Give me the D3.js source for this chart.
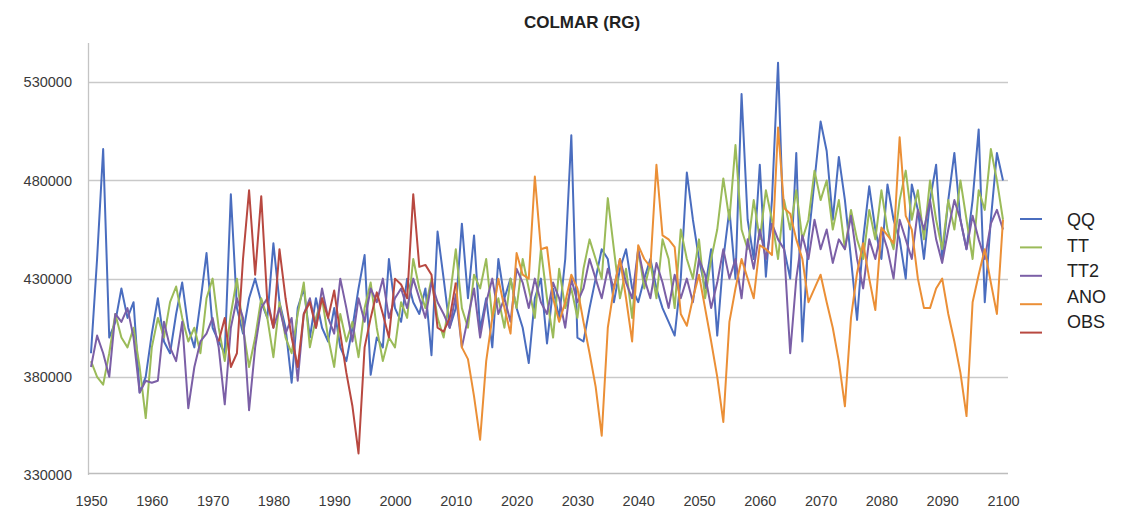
<!DOCTYPE html>
<html>
<head>
<meta charset="utf-8">
<script src="https://cdn.jsdelivr.net/npm/d3@7/dist/d3.min.js"></script>
<style>
  html, body { margin: 0; padding: 0; background: #fff; }
  svg { display: block; }
</style>
</head>
<body>
<svg id="chart" width="1121" height="513"></svg>
<script>
// ---------- DATA ----------
const years = d3.range(1950, 2101);
const xTickYears = [1950, 1960, 1970, 1980, 1990, 2000, 2010, 2020, 2030, 2040, 2050, 2060, 2070, 2080, 2090, 2100];
const yTickValues = [330000, 380000, 430000, 480000, 530000];
const seriesNames = ["QQ", "TT", "TT2", "ANO", "OBS"];
const seriesColors = ["#4a6dbf", "#9bbb59", "#7b5fa6", "#eb8f36", "#b84840"];

const qq = [
  392000, 440000, 496000, 400000, 408000, 425000, 410000, 418000, 372000, 380000,
  402000, 420000, 398000, 392000, 412000, 428000, 405000, 395000, 418000, 443000,
  405000, 398000, 392000, 473000, 415000, 402000, 420000, 430000, 418000, 410000,
  448000, 418000, 405000, 377000, 415000, 425000, 400000, 420000, 405000, 398000,
  415000, 395000, 388000, 405000, 425000, 442000, 381000, 400000, 395000, 440000,
  415000, 408000, 430000, 418000, 412000, 425000, 391000, 454000, 430000, 405000,
  415000, 458000, 420000, 452000, 404000, 420000, 395000, 440000, 420000, 430000,
  415000, 405000, 387000, 420000, 430000, 397000, 425000, 410000, 440000, 503000,
  400000, 398000, 415000, 430000, 445000, 440000, 418000, 435000, 445000, 425000,
  418000, 430000, 440000, 425000, 415000, 408000, 401000, 430000, 484000, 460000,
  440000, 425000, 445000, 401000, 440000, 465000, 430000, 524000, 460000, 440000,
  488000, 431000, 470000, 540000, 445000, 430000, 494000, 398000, 450000, 480000,
  510000, 495000, 460000, 492000, 470000, 440000, 409000, 450000, 477000, 455000,
  440000, 478000, 460000, 450000, 430000, 478000, 465000, 440000, 470000, 488000,
  440000, 470000, 494000, 460000, 445000, 470000, 506000, 418000, 460000, 494000,
  480000
];
const tt = [
  388000, 380000, 376000, 392000, 412000, 400000, 395000, 405000, 385000, 359000,
  395000, 410000, 400000, 418000, 426000, 410000, 398000, 405000, 392000, 420000,
  430000, 405000, 388000, 412000, 430000, 405000, 385000, 400000, 420000, 410000,
  390000, 418000, 400000, 392000, 412000, 428000, 395000, 410000, 420000, 400000,
  385000, 412000, 398000, 408000, 390000, 415000, 428000, 405000, 388000, 400000,
  395000, 418000, 410000, 440000, 425000, 415000, 430000, 410000, 400000, 420000,
  445000, 415000, 405000, 432000, 425000, 440000, 410000, 420000, 405000, 430000,
  415000, 440000, 425000, 410000, 445000, 420000, 400000, 435000, 415000, 425000,
  410000, 435000, 450000, 440000, 430000, 471000, 445000, 420000, 435000, 410000,
  445000, 425000, 438000, 420000, 450000, 440000, 415000, 455000, 440000, 430000,
  450000, 420000, 440000, 455000, 481000, 460000, 498000, 455000, 445000, 470000,
  450000, 475000, 460000, 440000, 470000, 455000, 475000, 450000, 460000, 485000,
  470000, 480000, 455000, 470000, 445000, 465000, 450000, 440000, 465000, 450000,
  475000, 455000, 445000, 470000, 485000, 460000, 475000, 450000, 480000, 460000,
  445000, 470000, 455000, 480000, 460000, 440000, 475000, 465000, 496000, 480000,
  460000
];
const tt2 = [
  385000, 401000, 392000, 380000, 412000, 408000, 415000, 400000, 372000, 378000,
  377000, 378000, 408000, 395000, 388000, 408000, 364000, 385000, 398000, 402000,
  410000, 395000, 366000, 405000, 420000, 410000, 363000, 395000, 415000, 420000,
  405000, 415000, 402000, 410000, 378000, 412000, 420000, 405000, 425000, 410000,
  402000, 430000, 415000, 398000, 420000, 408000, 425000, 418000, 430000, 410000,
  420000, 425000, 415000, 430000, 420000, 410000, 428000, 418000, 412000, 405000,
  422000, 395000, 410000, 425000, 400000, 418000, 430000, 412000, 420000, 408000,
  435000, 428000, 415000, 430000, 418000, 412000, 428000, 420000, 405000, 430000,
  418000, 425000, 440000, 430000, 420000, 435000, 425000, 440000, 428000, 420000,
  445000, 430000, 420000, 438000, 428000, 415000, 432000, 420000, 430000, 418000,
  440000, 432000, 415000, 428000, 445000, 430000, 440000, 420000, 450000, 435000,
  455000, 440000, 458000, 450000, 445000, 392000, 430000, 452000, 440000, 460000,
  445000, 455000, 438000, 450000, 445000, 462000, 440000, 425000, 450000, 440000,
  455000, 445000, 430000, 460000, 450000, 440000, 465000, 455000, 470000, 450000,
  438000, 455000, 470000, 460000, 445000, 462000, 450000, 440000, 458000, 465000,
  455000
];
// ANO: 2010 - 2100
const anoStart = 2010;
const ano = [
  428000,
  395000, 389000, 370000, 348000, 388000, 410000, 430000, 415000, 402000, 443000,
  432000, 430000, 482000, 445000, 446000, 420000, 408000, 418000, 432000, 425000,
  408000, 392000, 375000, 350000, 405000, 425000, 440000, 420000, 398000, 447000,
  440000, 436000, 488000, 452000, 450000, 446000, 412000, 406000, 420000, 432000,
  415000, 398000, 380000, 357000, 408000, 425000, 440000, 430000, 420000, 447000,
  445000, 442000, 507000, 466000, 463000, 450000, 440000, 418000, 425000, 432000,
  418000, 405000, 388000, 365000, 410000, 433000, 448000, 430000, 414000, 456000,
  452000, 448000, 502000, 462000, 455000, 430000, 415000, 415000, 425000, 430000,
  412000, 398000, 382000, 360000, 418000, 432000, 445000, 428000, 412000, 460000
];
// OBS: 1971 - 2010
const obsStart = 1971;
const obs = [
  398000, 410000, 385000, 392000, 440000, 475000, 432000, 472000, 418000, 405000,
  445000, 420000, 400000, 385000, 412000, 418000, 405000, 420000, 410000, 424000,
  402000, 382000, 365000, 341000, 395000, 410000, 423000, 412000, 400000, 430000,
  427000, 420000, 473000, 436000, 437000, 432000, 405000, 403000, 410000, 428000
];

// ---------- BUILD ----------
const seriesData = [
  years.map((y, i) => ({ year: y, value: qq[i] })),
  years.map((y, i) => ({ year: y, value: tt[i] })),
  years.map((y, i) => ({ year: y, value: tt2[i] })),
  ano.map((v, i) => ({ year: anoStart + i, value: v })),
  obs.map((v, i) => ({ year: obsStart + i, value: v }))
];

const svg = d3.select("#chart");
const plotLeft = 88, plotRight = 1008, plotTop = 43, plotBottom = 475;
const font = "'Liberation Sans', Arial, sans-serif";

const x = d3.scaleLinear().domain([1950, 2100]).range([91, 1003]);
const y = d3.scaleLinear().domain([330000, 550000]).range([plotBottom, plotTop]);

// gridlines
svg.append("g")
  .selectAll("line")
  .data(yTickValues.slice(1))
  .join("line")
  .attr("x1", plotLeft).attr("x2", plotRight)
  .attr("y1", d => Math.round(y(d)) + 0.5).attr("y2", d => Math.round(y(d)) + 0.5)
  .attr("stroke", "#c9c9c9").attr("stroke-width", 1.3);

// axes lines
svg.append("line")
  .attr("x1", plotLeft + 0.5).attr("x2", plotLeft + 0.5)
  .attr("y1", plotTop).attr("y2", plotBottom)
  .attr("stroke", "#c4c4c4").attr("stroke-width", 1.3);
svg.append("line")
  .attr("x1", plotLeft).attr("x2", plotRight)
  .attr("y1", plotBottom - 1.5).attr("y2", plotBottom - 1.5)
  .attr("stroke", "#bdbdbd").attr("stroke-width", 1.6);

// y axis labels
const yAxis = d3.axisLeft(y).tickValues(yTickValues).tickSize(0).tickPadding(16)
  .tickFormat(d3.format("d"));
const gy = svg.append("g").attr("transform", `translate(${plotLeft},0)`).call(yAxis);
gy.select(".domain").remove();
gy.selectAll("text")
  .attr("font-family", font)
  .attr("font-size", 14.5).attr("fill", "#3a3a3a");

// x axis labels
const xAxis = d3.axisBottom(x).tickValues(xTickYears).tickSize(0).tickPadding(21)
  .tickFormat(d3.format("d"));
const gx = svg.append("g").attr("transform", `translate(0,${plotBottom})`).call(xAxis);
gx.select(".domain").remove();
gx.selectAll("text")
  .attr("font-family", font)
  .attr("font-size", 14.5).attr("fill", "#3a3a3a");

// lines
const line = d3.line().x(d => x(d.year)).y(d => y(d.value));
svg.append("g")
  .selectAll("path")
  .data(seriesData)
  .join("path")
  .attr("d", line)
  .attr("fill", "none")
  .attr("stroke", (d, i) => seriesColors[i])
  .attr("stroke-width", 2)
  .attr("stroke-linejoin", "round");

// title
svg.append("text")
  .attr("x", 582).attr("y", 28)
  .attr("text-anchor", "middle")
  .attr("font-family", font)
  .attr("font-weight", "bold").attr("font-size", 17).attr("fill", "#222")
  .text("COLMAR (RG)");

// legend
const lg = svg.append("g");
seriesNames.forEach((name, i) => {
  lg.append("line")
    .attr("x1", 1020).attr("x2", 1042)
    .attr("y1", 219 + i * 28.4).attr("y2", 219 + i * 28.4)
    .attr("stroke", seriesColors[i]).attr("stroke-width", 2);
  lg.append("text")
    .attr("x", 1067).attr("y", 220 + i * 25.4)
    .attr("dy", "0.36em")
    .attr("font-family", font)
    .attr("font-size", 18).attr("fill", "#222")
    .text(name);
});
</script>
</body>
</html>
